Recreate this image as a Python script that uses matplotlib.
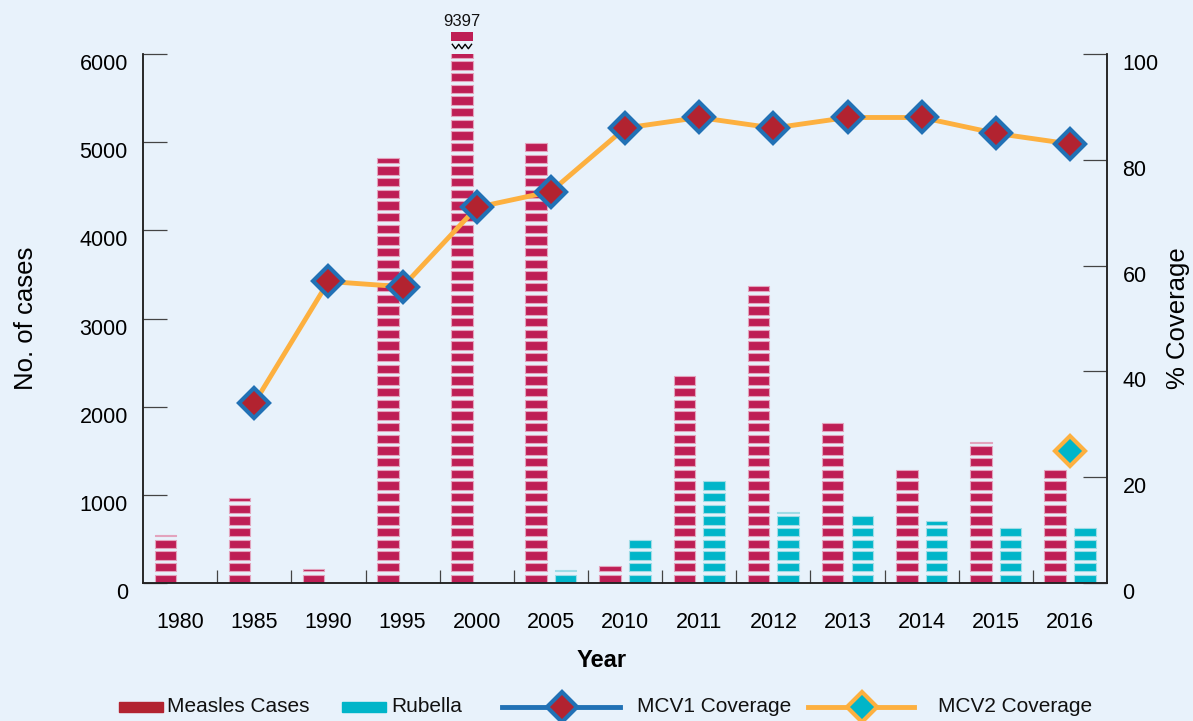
import numpy as np
import matplotlib.pyplot as plt
import matplotlib.transforms as mtransforms
from matplotlib.patches import Rectangle
from matplotlib.lines import Line2D

# Donnees
years = ['1980', '1985', '1990', '1995', '2000', '2005', '2010',
         '2011', '2012', '2013', '2014', '2015', '2016']
measles = [550, 960, 160, 4820, 9397, 5020, 190,
           2360, 3370, 1850, 1290, 1600, 1285]
rubella = [0, 0, 0, 0, 0, 150, 500,
           1160, 810, 760, 705, 635, 645]
mcv1 = [np.nan, 34, 57, 56, 71, 74, 86,
        88, 86, 88, 88, 85, 83]
mcv2 = [np.nan] * 12 + [25]

# Couleurs
bg = '#E8F2FB'
c_measles = '#BE1E55'
c_rubella = '#00B5C9'
c_red = '#B22330'
c_blue = '#2171B5'
c_orange = '#FDB03F'

plt.rcParams['font.family'] = ['Liberation Sans', 'DejaVu Sans']

fig = plt.figure(figsize=(11.93, 7.21), dpi=100, facecolor=bg)
ax = fig.add_axes([0.1199, 0.1914, 0.8081, 0.7337])
ax.set_facecolor(bg)
ax2 = ax.twinx()

x = np.arange(len(years))
ymax = 6000
period = 132.3   # pas des rayures (unites de donnees)
seg = 94.5       # hauteur d'une bande pleine


def striped(xpos, vals, color, edge):
    for xi, h in zip(xpos, vals):
        if h <= 0:
            continue
        bottoms = np.arange(0, h, period)
        heights = np.minimum(seg, h - bottoms)
        ax.bar(np.full(len(bottoms), xi), heights, bottom=bottoms, width=0.29,
               color=color, edgecolor=edge, linewidth=0.8, zorder=2)


striped(x - 0.2, measles, c_measles, '#E3A3BD')
striped(x + 0.2, rubella, c_rubella, '#9FDCE6')

ax.set_xlim(-0.5, len(years) - 0.5)
ax.set_ylim(0, ymax)
ax2.set_ylim(0, 100)

# barre coupee (valeur hors echelle)
for xi, h in zip(x - 0.2, measles):
    if h > ymax:
        ax.bar(xi, 100, bottom=ymax + 150, width=0.29, color=c_measles,
               clip_on=False, zorder=3)
        zx = np.linspace(xi - 0.13, xi + 0.13, 7)
        zy = np.where(np.arange(7) % 2 == 0, ymax + 110, ymax + 60)
        ax.plot(zx, zy, color='black', lw=1.0, clip_on=False, zorder=3)
        ax.text(xi, ymax + 370, str(h), ha='center', va='center',
                fontsize=12, color='#111111')

# lignes de couverture
ax2.plot(x, mcv1, color=c_orange, lw=3.5, marker='D', ms=15,
         mfc=c_red, mec=c_blue, mew=3, zorder=5)
ax2.plot(x, mcv2, color=c_orange, lw=3.5, marker='D', ms=15,
         mfc=c_rubella, mec=c_orange, mew=3, zorder=5)
ax2.patch.set_visible(False)

# axes
for a in (ax, ax2):
    a.spines['top'].set_visible(False)
    for s in ('left', 'right', 'bottom'):
        a.spines[s].set_linewidth(1.1)
        a.spines[s].set_color('#222222')

ax.set_yticks(np.arange(0, 6001, 1000))
ax2.set_yticks(np.arange(0, 101, 20))
ax.tick_params(axis='y', direction='in', length=17, width=0.9,
               color='#444444', pad=11, labelsize=15.5)
ax2.tick_params(axis='y', direction='in', length=17, width=0.9,
                color='#444444', pad=11, labelsize=15.5)

ax.set_xticks(x)
ax.set_xticklabels(years)
ax.set_xticks(x[:-1] + 0.5, minor=True)
ax.tick_params(axis='x', which='major', length=0, pad=21, labelsize=15.5)
ax.tick_params(axis='x', which='minor', direction='in', length=9.5,
               width=0.9, color='#444444')

# decalage des etiquettes y vers le bas
off = mtransforms.ScaledTranslation(0, -0.08, fig.dpi_scale_trans)
for lab in ax.get_yticklabels() + ax2.get_yticklabels():
    lab.set_transform(lab.get_transform() + off)

ax.set_ylabel('No. of cases', fontsize=18.5, va='center')
ax.yaxis.set_label_coords(-0.121, 0.5)
ax2.set_ylabel('% Coverage', fontsize=18.5, va='center')
ax2.yaxis.set_label_coords(1.0737, 0.5)
ax.set_xlabel('Year', fontsize=17, fontweight='bold', va='center')
ax.xaxis.set_label_coords(0.476, -0.1456)

# legende
W, H = 1193, 721
ly = 1 - 707 / H
fig.add_artist(Rectangle((119 / W, 1 - 712 / H), 44 / W, 10 / H,
                         transform=fig.transFigure, color=c_red))
fig.add_artist(Rectangle((342 / W, 1 - 712 / H), 44 / W, 10 / H,
                         transform=fig.transFigure, color=c_rubella))
fig.add_artist(Line2D([502 / W, 620 / W], [ly, ly], transform=fig.transFigure,
                      color=c_blue, lw=3.5))
fig.add_artist(Line2D([562 / W], [ly], transform=fig.transFigure, marker='D',
                      ms=15, mfc=c_red, mec=c_blue, mew=3))
fig.add_artist(Line2D([808 / W, 914 / W], [ly, ly], transform=fig.transFigure,
                      color=c_orange, lw=3.5))
fig.add_artist(Line2D([862 / W], [ly], transform=fig.transFigure, marker='D',
                      ms=15, mfc=c_rubella, mec=c_orange, mew=3))
for tx, lab in [(167, 'Measles Cases'), (391, 'Rubella'),
                (637, 'MCV1 Coverage'), (938, 'MCV2 Coverage')]:
    fig.text(tx / W, ly, lab, ha='left', va='center', fontsize=15,
             color='#111111')

fig.savefig('out.png', dpi=100, facecolor=bg)
